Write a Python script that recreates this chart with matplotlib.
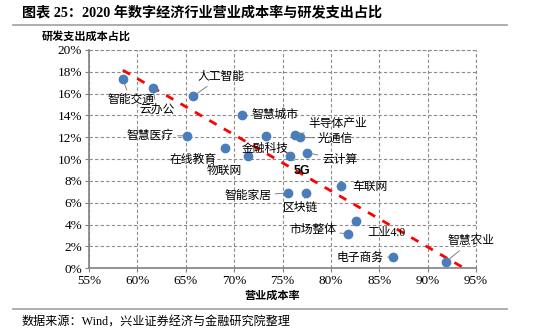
import matplotlib
matplotlib.use("Agg")
import matplotlib.pyplot as plt
from matplotlib.lines import Line2D
from matplotlib.ticker import FuncFormatter

MIX = ['Liberation Serif', 'Noto Sans CJK SC']
plt.rcParams['font.family'] = MIX

# data (% values)
sectors = ['智能交通', '云办公', '人工智能', '智慧城市', '智慧医疗', '金融科技',
           '在线教育', '物联网', '半导体产业', '光通信', '5G', '云计算',
           '智能家居', '区块链', '车联网', '工业4.0', '市场整体', '电子商务', '智慧农业']
cost_rate = [58.5, 61.6, 65.75, 70.8, 65.15, 73.25,
             69.05, 71.4, 76.3, 76.85, 75.8, 77.5,
             75.55, 77.45, 81.05, 82.6, 81.8, 86.45, 91.9]
rd_ratio = [17.3, 16.5, 15.75, 14.05, 12.15, 12.1,
            11.05, 10.25, 12.2, 12.0, 10.3, 10.6,
            6.9, 6.9, 7.5, 4.3, 3.15, 1.05, 0.6]

trend_x = [58.5, 93.8]
trend_y = [18.15, 0.0]

x_ticks = [55, 60, 65, 70, 75, 80, 85, 90, 95]
y_ticks = [0, 2, 4, 6, 8, 10, 12, 14, 16, 18, 20]

# label placement: (text x, text y, leader line?)
label_pos = {
    '智能交通': (59.3, 15.4, True),
    '云办公': (62.0, 14.55, True),
    '人工智能': (68.6, 17.55, True),
    '智慧城市': (74.2, 14.05, False),
    '智慧医疗': (61.3, 12.1, True),
    '金融科技': (73.2, 10.95, False),
    '在线教育': (65.8, 9.95, False),
    '物联网': (69.0, 8.9, False),
    '半导体产业': (80.7, 13.2, True),
    '光通信': (80.5, 11.9, True),
    '5G': (77.05, 8.95, True),
    '云计算': (80.9, 9.95, True),
    '智能家居': (71.4, 6.65, True),
    '区块链': (76.9, 5.5, True),
    '车联网': (84.0, 7.5, False),
    '工业4.0': (85.7, 3.2, False),
    '市场整体': (78.1, 3.5, True),
    '电子商务': (83.0, 0.95, True),
    '智慧农业': (94.5, 2.5, True),
}

fig = plt.figure(figsize=(5.5, 3.34), dpi=100)
ax = fig.add_axes([89 / 550, 1 - 268.3 / 334, 387 / 550, 218.3 / 334])

ax.set_xlim(55, 95)
ax.set_ylim(0, 20)
ax.set_xticks(x_ticks)
ax.set_yticks(y_ticks)
ax.xaxis.set_major_formatter(FuncFormatter(lambda v, p: f'{v:.0f}%'))
ax.yaxis.set_major_formatter(FuncFormatter(lambda v, p: f'{v:.0f}%'))
ax.tick_params(labelsize=9.5, length=3, color='#808080', pad=2)
ax.grid(True, linestyle=(0, (3, 2)), color='#8c8c8c', linewidth=0.8)
ax.set_axisbelow(True)
for s in ['top', 'right']:
    ax.spines[s].set_visible(False)
for s in ['left', 'bottom']:
    ax.spines[s].set_color('#808080')
    ax.spines[s].set_linewidth(1.2)
# dashed frame on top and right, like the grid
ax.axhline(20, linestyle=(0, (3, 2)), color='#8c8c8c', linewidth=0.8, clip_on=False)
ax.axvline(95, linestyle=(0, (3, 2)), color='#8c8c8c', linewidth=0.8, clip_on=False)

ax.plot(trend_x, trend_y, color='#ff0000', linestyle=(0, (3, 3)), linewidth=2, zorder=2)
ax.scatter(cost_rate, rd_ratio, s=36, color='#4a7ebb', zorder=3)

for name, x, y in zip(sectors, cost_rate, rd_ratio):
    tx, ty, leader = label_pos[name]
    if name == '5G':
        kw = dict(family=['Liberation Sans'], fontweight='bold', fontsize=9)
    else:
        kw = dict(fontsize=8.5)
    arrow = dict(arrowstyle='-', color='#808080', lw=0.7, shrinkA=1, shrinkB=3) if leader else None
    ax.annotate(name, xy=(x, y), xytext=(tx, ty), ha='center', va='center',
                arrowprops=arrow, zorder=4, **kw)

fig.text(22 / 550, 1 - 12 / 334, '图表 25：2020 年数字经济行业营业成本率与研发支出占比',
         fontsize=10.2, fontweight='bold', ha='left', va='center')
fig.add_artist(Line2D([13 / 550, 507 / 550], [1 - 25 / 334, 1 - 25 / 334],
                      color='#a0a0a0', linewidth=1.2))
fig.text(42 / 550, 1 - 36 / 334, '研发支出成本占比', fontsize=8, fontweight='bold',
         ha='left', va='center')
fig.text(272 / 550, 1 - 296 / 334, '营业成本率', fontsize=8, fontweight='bold',
         ha='center', va='center')
fig.add_artist(Line2D([13 / 550, 507 / 550], [1 - 309 / 334, 1 - 309 / 334],
                      color='#a0a0a0', linewidth=1.2))
fig.text(22 / 550, 1 - 323 / 334, '数据来源：Wind，兴业证券经济与金融研究院整理',
         fontsize=8.7, ha='left', va='center')

fig.savefig('out.png', dpi=100)
